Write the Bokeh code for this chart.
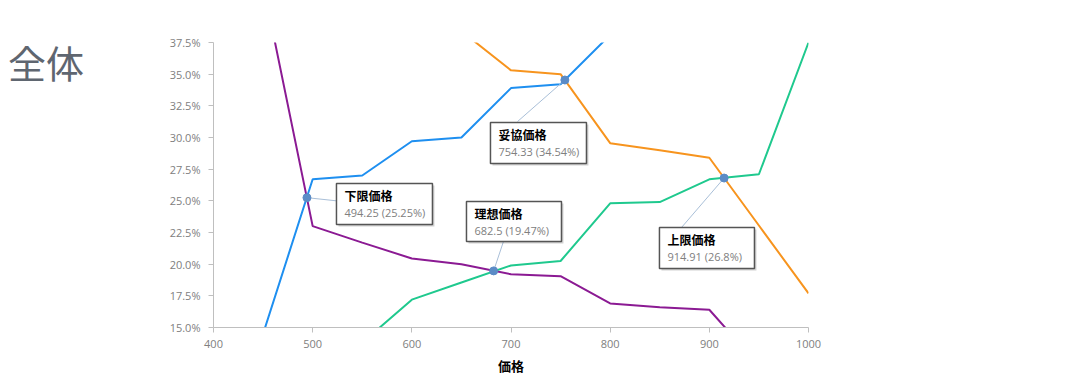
from bokeh.plotting import figure
from bokeh.models import Range1d, FixedTicker, PrintfTickFormatter, Div
from bokeh.layouts import row
from bokeh.core.properties import value
from bokeh.embed import file_html
from bokeh.resources import INLINE

# ---- data (price, percent) ----
blue_x = [450, 500, 550, 600, 650, 700, 750, 800]
blue_y = [14.5, 26.7, 27.0, 29.7, 30.0, 33.9, 34.2, 38.1]

purple_x = [450, 500, 550, 600, 650, 700, 750, 800, 850, 900, 950]
purple_y = [42.1, 23.0, 21.7, 20.45, 20.0, 19.2, 19.05, 16.9, 16.6, 16.4, 12.0]

green_x = [550, 600, 650, 700, 750, 800, 850, 900, 950, 1000]
green_y = [13.8, 17.2, 18.55, 19.9, 20.25, 24.8, 24.9, 26.7, 27.1, 37.5]

orange_x = [650, 700, 750, 800, 850, 900, 950, 1000]
orange_y = [38.4, 35.3, 35.0, 29.55, 29.0, 28.4, 23.05, 17.7]

call_names = ["下限価格", "妥協価格", "理想価格", "上限価格"]
call_x = [494.25, 754.33, 682.5, 914.91]
call_y = [25.25, 34.54, 19.47, 26.8]
call_text = ["494.25 (25.25%)", "754.33 (34.54%)", "682.5 (19.47%)", "914.91 (26.8%)"]

y_ticks = [15.0, 17.5, 20.0, 22.5, 25.0, 27.5, 30.0, 32.5, 35.0, 37.5]
x_ticks = [400, 500, 600, 700, 800, 900, 1000]

# callout box layout (data units) and leader end points
box_left = [524.0, 679.3, 655.1, 849.7]
box_right = [620.8, 776.1, 750.9, 945.5]
box_top = [26.37, 31.18, 24.95, 22.89]
box_bottom = [23.13, 27.95, 21.79, 19.66]
lead_x = [524.0, 706.6, 692.4, 871.9]
lead_y = [25.0, 31.26, 21.79, 22.89]

p = figure(frame_width=595, frame_height=285,
           min_border_left=60, min_border_top=42, min_border_right=250, min_border_bottom=48,
           x_range=Range1d(400, 1000), y_range=Range1d(15, 37.5),
           output_backend="svg", toolbar_location=None)
p.outline_line_color = None
p.xgrid.grid_line_color = None
p.ygrid.grid_line_color = None

tick_font = "Open Sans"
for ax in (p.xaxis[0], p.yaxis[0]):
    ax.axis_line_color = "#bfbfbf"
    ax.major_tick_line_color = "#bfbfbf"
    ax.minor_tick_line_color = None
    ax.major_tick_in = 0
    ax.major_tick_out = 5
    ax.major_label_text_font = tick_font
    ax.major_label_text_font_size = "11px"
    ax.major_label_text_color = "#808080"

p.yaxis[0].ticker = FixedTicker(ticks=y_ticks)
p.yaxis[0].formatter = PrintfTickFormatter(format="%.1f%%")
p.yaxis[0].major_label_standoff = 8
p.xaxis[0].ticker = FixedTicker(ticks=x_ticks)
p.xaxis[0].major_label_standoff = 7
p.xaxis[0].axis_label = "価格"
p.xaxis[0].axis_label_text_font = "Noto Sans CJK JP"
p.xaxis[0].axis_label_text_font_style = "bold"
p.xaxis[0].axis_label_text_font_size = "13px"
p.xaxis[0].axis_label_text_color = "#000000"
p.xaxis[0].axis_label_standoff = 5

p.line(blue_x, blue_y, line_color="#1e8ff0", line_width=2)
p.line(purple_x, purple_y, line_color="#8b1a93", line_width=2)
p.line(green_x, green_y, line_color="#1fc98e", line_width=2)
p.line(orange_x, orange_y, line_color="#f7941e", line_width=2)

# leaders
p.segment(x0=call_x, y0=call_y, x1=lead_x, y1=lead_y, line_color="#a9bfd8", line_width=1)
p.scatter(call_x, call_y, size=8, fill_color="#5b8bc6", line_color="#5b8bc6")

# callout boxes (shadow + box)
sh_dx = 2.0
sh_dy = 0.16
p.quad(left=[v + sh_dx for v in box_left], right=[v + sh_dx for v in box_right],
       top=[v - sh_dy for v in box_top], bottom=[v - sh_dy for v in box_bottom],
       fill_color="#000000", fill_alpha=0.18, line_color=None)
p.quad(left=box_left, right=box_right, top=box_top, bottom=box_bottom,
       fill_color="white", line_color="#555555", line_width=1.5)
p.text(x=box_left, y=box_top, text=call_names, x_offset=8, y_offset=12,
       text_font=value("Noto Sans CJK JP"), text_font_size="12px", text_color="#000000",
       text_baseline="middle", text_font_style="bold")
p.text(x=box_left, y=box_top, text=call_text, x_offset=8, y_offset=29,
       text_font=value(tick_font), text_font_size="11px", text_color="#808080",
       text_baseline="middle")

title = Div(text="全体", width=153, height=120, margin=0,
            styles={"font-family": "Noto Sans CJK JP", "font-size": "38px",
                    "color": "#5f6670", "line-height": "1", "padding-top": "43px",
                    "padding-left": "8px"})

layout = row(title, p, spacing=0)
open("out.html", "w").write(file_html(layout, INLINE))
